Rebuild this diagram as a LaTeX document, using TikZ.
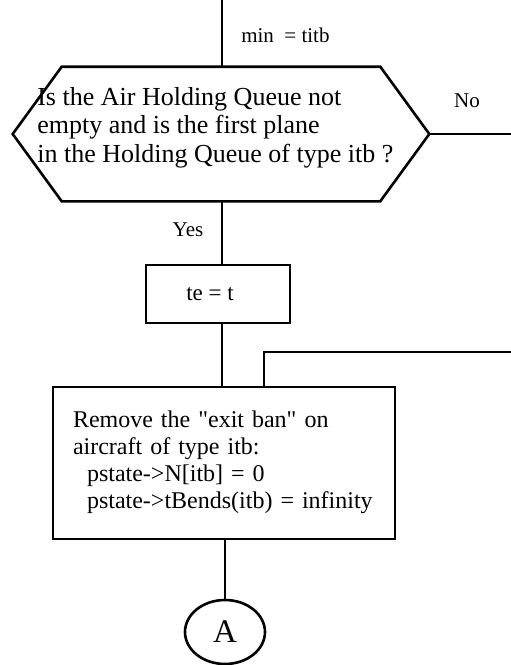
\documentclass[tikz,border=0pt]{standalone}
\usepackage{fontspec}
\setmainfont{Liberation Serif}
\usetikzlibrary{shapes.geometric}
\begin{document}
\begin{tikzpicture}[x=1pt,y=-1pt,line width=2.6pt,
  box/.style={draw,rectangle,inner sep=0pt},
  lbl/.style={inner sep=0pt,font=\fontsize{21}{24}\selectfont}]
\useasboundingbox (0,0) rectangle (511,665);
% decision hexagon
\node[minimum width=316pt,minimum height=132pt,inner sep=0pt] (q) at (221,134) {};
\coordinate (qR) at ([xshift=49pt]q.east);
\coordinate (qL) at ([xshift=-49pt]q.west);
\draw (q.north west) -- (q.north east) -- (qR) -- (q.south east) -- (q.south west) -- (qL) -- cycle;
\node[anchor=west,align=left,inner sep=0pt,font=\fontsize{26}{28.5}\selectfont] (qt) at (36,127.5)
  {Is the Air Holding Queue not\\empty and is the first plane\\in the Holding Queue of type itb ?};
% incoming
\coordinate (s) at (222,0);
\draw (s) -- (s |- q.north);
\node[lbl,anchor=west] (mt) at (240,35) {min\ \ = titb};
% No branch
\coordinate (ne) at (511,134);
\draw (qR) -- (ne);
\node[lbl] (no) at (467,101) {No};
% Yes branch
\node[box,minimum width=144pt,minimum height=58pt,font=\fontsize{23}{26}\selectfont] (te) at (218,294) {te = t\hspace*{16pt}};
\draw (q.south -| s) -- (te.north -| s);
\node[lbl] (yes) at (188,230) {Yes};
% action box
\node[box,minimum width=342pt,minimum height=152pt,text width=302pt,inner xsep=20pt,align=left,
  font=\fontsize{24}{27}\selectfont] (rem) at (224,463)
  {\begin{tabular}{@{}l@{}}Remove the \textquotedbl exit ban\textquotedbl{} on\\aircraft of type itb:\\\hspace*{14pt}pstate->N[itb] = 0\\\hspace*{14pt}pstate->tBends(itb) = infinity\end{tabular}};
\draw (te.south -| s) -- (rem.north -| s);
% loop-in from right
\coordinate (le) at (511,352);
\coordinate (lc) at (264,352);
\draw (le) -- (lc) -- (lc |- rem.north);
% connector A
\node[draw,ellipse,minimum width=80pt,minimum height=64pt,inner sep=0pt,font=\fontsize{33}{36}\selectfont] (a) at (225,632) {A};
\draw (rem.south -| a.north) -- (a.north);
\end{tikzpicture}
\end{document}
